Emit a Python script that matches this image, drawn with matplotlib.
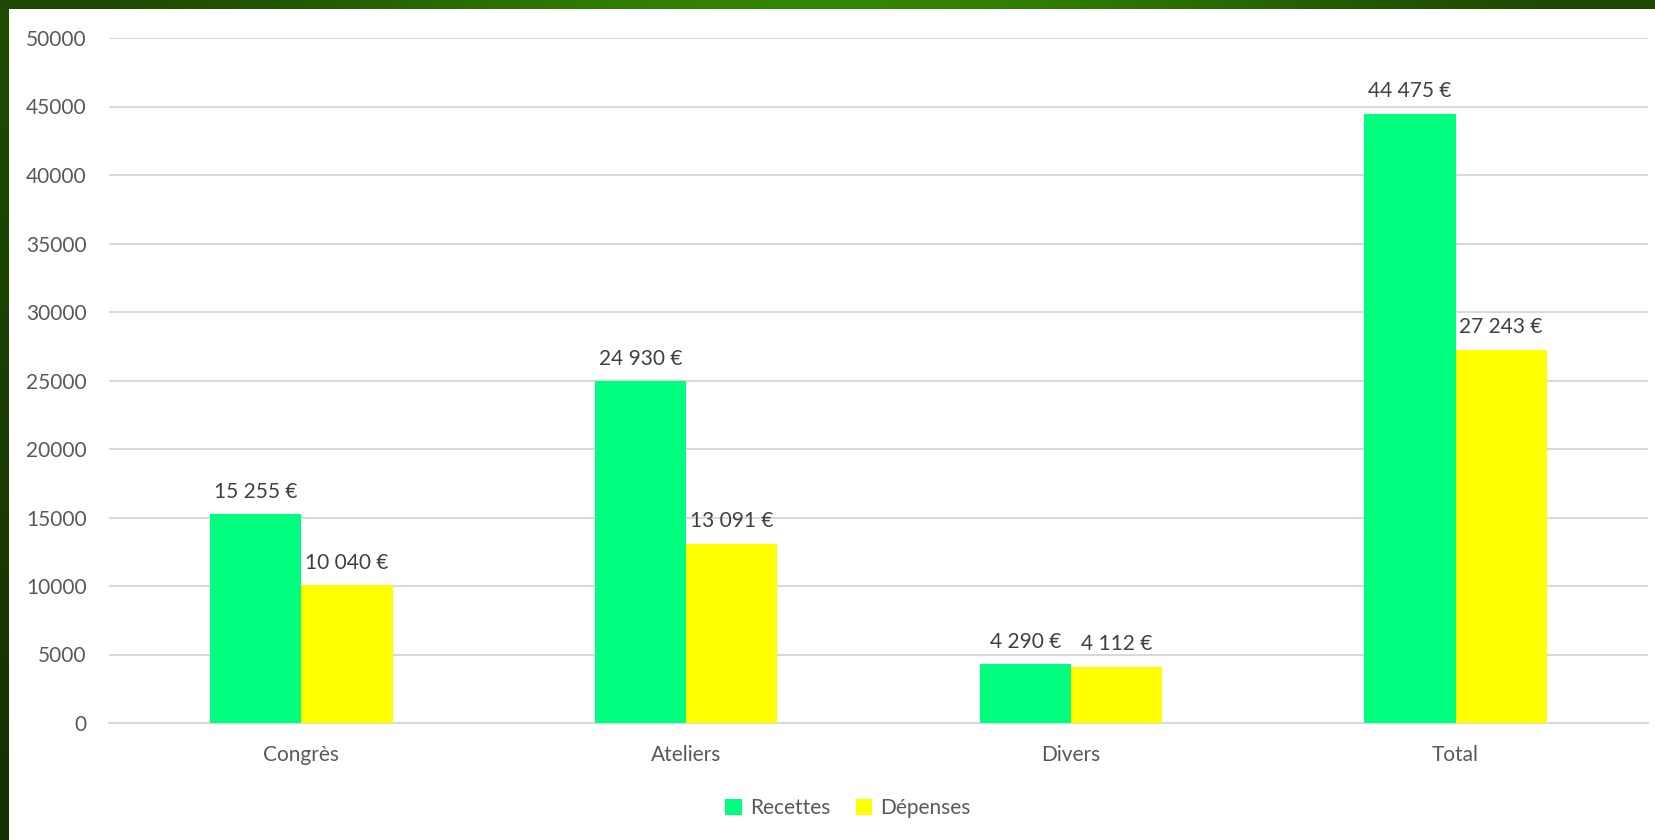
import numpy as np
import matplotlib
matplotlib.use("Agg")
import matplotlib.pyplot as plt

categories = ["Congrès", "Ateliers", "Divers", "Total"]
recettes = [15255, 24930, 4290, 44475]
depenses = [10040, 13091, 4112, 27243]
yticks = [0, 5000, 10000, 15000, 20000, 25000, 30000, 35000, 40000, 45000, 50000]


def euro(v):
    return "{:,}".format(v).replace(",", " ") + " €"


plt.rcParams['font.family'] = ['Lato', 'DejaVu Sans']

fig = plt.figure(figsize=(16.56, 8.4), dpi=100)
W, H = 1656.0, 840.0

# green frame (top and left strips)
top = fig.add_axes([0, 1 - 9 / H, 1, 9 / H])
t = np.linspace(0, 1, 400)
g = 0.5 - 0.5 * np.cos(2 * np.pi * t)
c0 = np.array([0x1d, 0x48, 0x00]) / 255.0
c1 = np.array([0x33, 0x86, 0x00]) / 255.0
row = c0[None, :] + (c1 - c0)[None, :] * g[:, None]
top.imshow(row[None, :, :], aspect='auto', interpolation='bilinear')
top.set_axis_off()

left = fig.add_axes([0, 0, 9 / W, 1 - 9 / H])
t2 = np.linspace(0, 1, 200)
cA = np.array([0x1f, 0x4c, 0x00]) / 255.0
cB = np.array([0x13, 0x30, 0x00]) / 255.0
col = cA[None, :] + (cB - cA)[None, :] * t2[:, None]
left.imshow(col[:, None, :], aspect='auto', interpolation='bilinear')
left.set_axis_off()

ax = fig.add_axes([109 / W, 1 - 723 / H, (1648 - 109) / W, (723 - 38) / H])

x = np.arange(len(categories))
w = 0.237
b1 = ax.bar(x - w / 2, recettes, w, color='#00ff7f', label='Recettes', zorder=3)
b2 = ax.bar(x + w / 2, depenses, w, color='#ffff00', label='Dépenses', zorder=3)

for bars, vals in [(b1, recettes), (b2, depenses)]:
    for b, v in zip(bars, vals):
        ax.annotate(euro(v), (b.get_x() + b.get_width() / 2, v),
                    xytext=(0, 9), textcoords='offset points',
                    ha='center', va='bottom', fontsize=15, color='#404040')

ax.set_xlim(-0.5, len(categories) - 0.5)
ax.set_ylim(0, 50000)
ax.set_yticks(yticks)
ax.set_yticklabels([str(v) for v in yticks])
ax.set_xticks(x)
ax.set_xticklabels(categories)
ax.tick_params(axis='both', length=0, labelsize=15, labelcolor='#595959')
ax.tick_params(axis='y', pad=16)
ax.tick_params(axis='x', pad=16)
ax.grid(axis='y', color='#d9d9d9', linewidth=1.5, zorder=0)
for s in ['top', 'right', 'left']:
    ax.spines[s].set_visible(False)
ax.spines['bottom'].set_color('#d9d9d9')
ax.spines['bottom'].set_linewidth(1.5)

fig.legend(handles=[b1, b2], loc='center', bbox_to_anchor=(848 / W, 1 - 808 / H),
           ncol=2, frameon=False, fontsize=15, handlelength=0.8, handleheight=0.8,
           handletextpad=0.4, columnspacing=1.2, labelcolor='#595959')

plt.savefig('out.png', dpi=100)
